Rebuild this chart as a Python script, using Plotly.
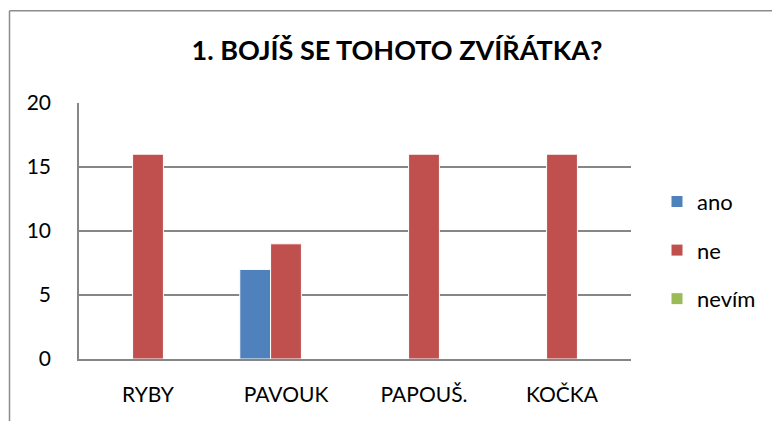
import plotly.graph_objects as go

categories = ["RYBY", "PAVOUK", "PAPOUŠ.", "KOČKA"]
series_names = ["ano", "ne", "nevím"]
ano = [0, 7, 0, 0]
ne = [16, 9, 16, 16]
nevim = [0, 0, 0, 0]
y_ticks = [0, 5, 10, 15, 20]
title_text = "1. BOJÍŠ SE TOHOTO ZVÍŘÁTKA?"

colors = ["#4F81BD", "#C0504D", "#9BBB59"]
FONT = "Lato"

W, H = 772, 413  # page body has an 8px margin
fig = go.Figure()
for i, (name, vals) in enumerate(zip(series_names, [ano, ne, nevim])):
    fig.add_trace(go.Bar(
        x=categories, y=vals, name=name,
        marker=dict(color=colors[i], line=dict(color="white", width=1)),
        legendgroup=name,
    ))

L, R, T, B = 71, 149, 95.3, 61.7
PW, PH = W - L - R, H - T - B

def px_to_paper_x(px):
    return (px - L) / PW

def px_to_paper_y(py):
    return (H - B - py) / PH

border = dict(color="#8C8C8C", width=1.5)
fig.update_layout(
    width=W, height=H,
    margin=dict(l=L, r=R, t=T, b=B, pad=0),
    paper_bgcolor="white", plot_bgcolor="white",
    font=dict(family=FONT, size=21, color="#000000"),
    barmode="group", bargap=0.33, bargroupgap=0,
    title=dict(text="<b>" + title_text + "</b>", x=389 / W, xanchor="center",
               y=1 - 42.5 / H, yanchor="middle", yref="container",
               font=dict(family=FONT, size=27, color="#000000")),
    showlegend=True,
    legend=dict(x=px_to_paper_x(649), xanchor="left", y=px_to_paper_y(173), yanchor="top",
                font=dict(family=FONT, size=22), tracegroupgap=17,
                traceorder="grouped", bgcolor="rgba(0,0,0,0)",
                itemwidth=30),
    xaxis=dict(showline=True, linecolor="#868686", linewidth=1.5, showgrid=False,
               ticks="", ticklabelstandoff=16, tickfont=dict(size=21)),
    yaxis=dict(range=[0, 20], tickvals=y_ticks, showline=True, linecolor="#868686",
               linewidth=1.5, showgrid=True, gridcolor="#868686", gridwidth=1.5,
               ticks="", ticklabelstandoff=22, zeroline=False, tickfont=dict(size=21)),
    shapes=[
        dict(type="line", xref="paper", yref="paper",
             x0=px_to_paper_x(1.5), x1=px_to_paper_x(W + 5),
             y0=px_to_paper_y(3), y1=px_to_paper_y(3), line=border),
        dict(type="line", xref="paper", yref="paper",
             x0=px_to_paper_x(1.5), x1=px_to_paper_x(1.5),
             y0=px_to_paper_y(3), y1=px_to_paper_y(H + 5), line=border),
    ],
)

fig.write_html("out.html")
